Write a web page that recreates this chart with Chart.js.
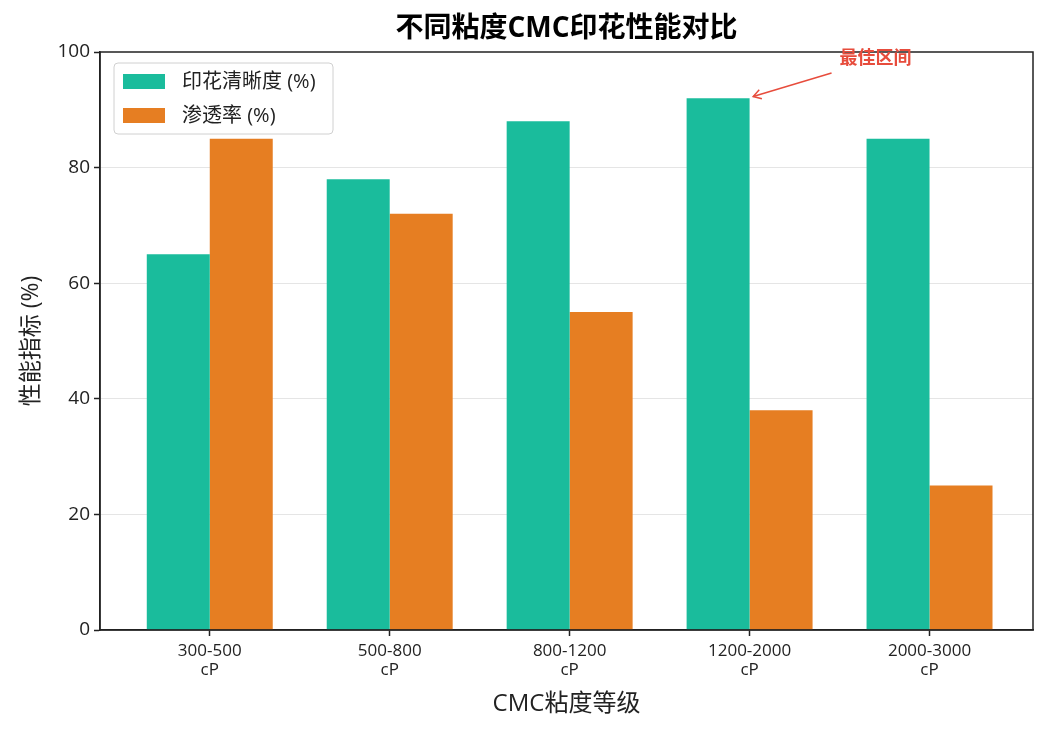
<!DOCTYPE html>
<html lang="zh">
  <head>
    <meta charset="UTF-8" />
    <title>不同粘度CMC印花性能对比</title>
    <script src="https://cdn.jsdelivr.net/npm/chart.js"></script>
    <style>
      html, body { margin: 0; padding: 0; background: #fff; }
      #wrap { width: 1049px; height: 735px; }
    </style>
  </head>
  <body>
    <div id="wrap"><canvas id="chart"></canvas></div>
    <script>
      const categories = [
        ["300-500", "cP"],
        ["500-800", "cP"],
        ["800-1200", "cP"],
        ["1200-2000", "cP"],
        ["2000-3000", "cP"],
      ];
      const clarity = [65, 78, 88, 92, 85]; // 印花清晰度 (%)
      const penetration = [85, 72, 55, 38, 25]; // 渗透率 (%)
      const yTicks = [0, 20, 40, 60, 80, 100];

      const FONT = "'Open Sans', 'Noto Sans CJK SC', sans-serif";
      const INK = "#222";

      // frame, title, legend and the annotation arrow
      const decorations = {
        id: "decorations",
        afterDraw(chart) {
          const { ctx, chartArea: a, scales } = chart;
          ctx.save();

          ctx.strokeStyle = INK;
          ctx.lineWidth = 1.5;
          ctx.strokeRect(a.left, a.top, a.right - a.left, a.bottom - a.top);

          ctx.fillStyle = "#000";
          ctx.font = "bold 28px " + FONT;
          ctx.textAlign = "center";
          ctx.textBaseline = "middle";
          ctx.fillText("不同粘度CMC印花性能对比", (a.left + a.right) / 2, 29);

          // legend
          const lx = a.left + 14, ly = a.top + 11, lw = 219, lh = 71;
          ctx.beginPath();
          ctx.roundRect(lx, ly, lw, lh, 4);
          ctx.fillStyle = "rgba(255,255,255,0.8)";
          ctx.fill();
          ctx.strokeStyle = "#d0d0d0";
          ctx.lineWidth = 1;
          ctx.stroke();
          ctx.font = "20px " + FONT;
          ctx.textAlign = "left";
          chart.data.datasets.forEach((ds, i) => {
            const y = ly + 18 + i * 34;
            ctx.fillStyle = ds.backgroundColor;
            ctx.fillRect(lx + 9, y - 7, 42, 15);
            ctx.fillStyle = INK;
            ctx.fillText(ds.label, lx + 68, y + 1);
          });

          // annotation
          const x = scales.x, yS = scales.y;
          const hx = x.getPixelForValue(3.02), hy = yS.getPixelForValue(92.3);
          const tx = x.getPixelForValue(3.7), ty = yS.getPixelForValue(98.8);
          const sx = tx - 44, sy = ty + 14;
          ctx.strokeStyle = "#e74c3c";
          ctx.fillStyle = "#e74c3c";
          ctx.lineWidth = 1.5;
          ctx.beginPath();
          ctx.moveTo(sx, sy);
          ctx.lineTo(hx, hy);
          ctx.stroke();
          const ang = Math.atan2(hy - sy, hx - sx);
          ctx.beginPath();
          ctx.moveTo(hx + Math.cos(ang + 2.6) * 9, hy + Math.sin(ang + 2.6) * 9);
          ctx.lineTo(hx, hy);
          ctx.lineTo(hx + Math.cos(ang - 2.6) * 9, hy + Math.sin(ang - 2.6) * 9);
          ctx.stroke();
          ctx.font = "bold 18px " + FONT;
          ctx.textAlign = "center";
          ctx.fillText("最佳区间", tx, ty);

          ctx.restore();
        },
      };

      new Chart(document.getElementById("chart"), {
        type: "bar",
        data: {
          datasets: [
            {
              label: "印花清晰度 (%)",
              data: clarity.map((v, i) => ({ x: i, y: v })),
              backgroundColor: "#1abc9c",
            },
            {
              label: "渗透率 (%)",
              data: penetration.map((v, i) => ({ x: i, y: v })),
              backgroundColor: "#e67e22",
            },
          ],
        },
        options: {
          responsive: true,
          maintainAspectRatio: false,
          animation: false,
          layout: { padding: { left: 0, right: 16, top: 52, bottom: 0 } },
          categoryPercentage: 0.7,
          barPercentage: 1.0,
          plugins: {
            legend: { display: false },
            title: { display: false },
            tooltip: { enabled: false },
          },
          scales: {
            x: {
              type: "linear",
              offset: false,
              min: -0.61,
              max: 4.575,
              afterBuildTicks: (s) => {
                s.ticks = categories.map((c, i) => ({ value: i }));
              },
              afterFit: (s) => { s.height = 105; },
              ticks: {
                callback: (v) => categories[v],
                font: { family: FONT, size: 17, lineHeight: 1.1 },
                color: INK,
                padding: 6,
                maxRotation: 0,
                autoSkip: false,
              },
              grid: {
                offset: false,
                drawOnChartArea: false,
                tickLength: 6,
                tickColor: INK,
                tickWidth: 1.5,
              },
              border: { color: INK, width: 1.5 },
              title: {
                display: true,
                text: "CMC粘度等级",
                font: { family: FONT, size: 24 },
                color: INK,
                padding: { top: 0, bottom: 16 },
              },
            },
            y: {
              min: 0,
              max: 100,
              afterBuildTicks: (s) => {
                s.ticks = yTicks.map((v) => ({ value: v }));
              },
              afterFit: (s) => { s.width = 100; },
              ticks: {
                font: { family: FONT, size: 19 },
                color: INK,
                padding: 4,
              },
              grid: {
                color: (c) => (c.tick.value === 0 || c.tick.value === 100 ? "rgba(0,0,0,0)" : "rgba(0,0,0,0.1)"),
                tickColor: INK,
                tickLength: 6,
                tickWidth: 1.5,
              },
              border: { color: INK, width: 1.5 },
              title: {
                display: true,
                text: "性能指标 (%)",
                font: { family: FONT, size: 23 },
                color: INK,
                padding: { top: 18, bottom: 0 },
              },
            },
          },
        },
        plugins: [decorations],
      });
    </script>
  </body>
</html>
